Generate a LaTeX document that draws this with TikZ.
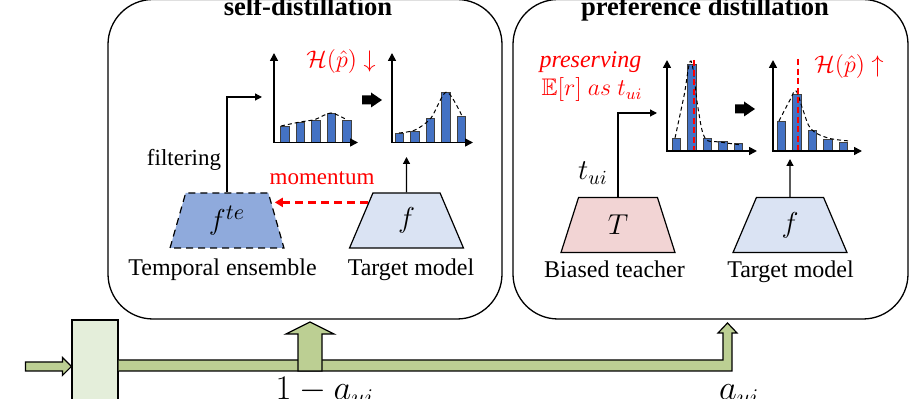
\documentclass[tikz,border=0pt]{standalone}
\usepackage{amssymb}
\usepackage{fontspec}
\setmainfont{Liberation Serif}
\usetikzlibrary{arrows.meta,calc,positioning,shapes.geometric}
\definecolor{barblue}{HTML}{4472C4}
\definecolor{teblue}{HTML}{8FAADC}
\definecolor{tgtblue}{HTML}{DAE3F3}
\definecolor{tchpink}{HTML}{F2D4D4}
\definecolor{flowgreen}{HTML}{BCCF93}
\definecolor{gatefill}{HTML}{E4EEDA}
\tikzset{link/.style={-{Triangle[length=3.5pt,width=3.5pt]}, line width=0.6pt},
  chartaxis/.style={{Triangle[length=4pt,width=4pt]}-{Triangle[length=4pt,width=4pt]}, line width=0.8pt},
  bar/.style={draw=black!75, fill=barblue, line width=0.5pt},
  trend/.style={dash pattern=on 2pt off 1.5pt, line width=0.5pt},
  meanline/.style={red, line width=1.1pt, dash pattern=on 3pt off 1.8pt},
  momline/.style={red, line width=1.4pt, dash pattern=on 4pt off 2.5pt, -{Triangle[length=4pt,width=4.5pt]}},
  model/.style={trapezium, draw, trapezium angle=77, trapezium stretches=true,
    minimum width=57pt, minimum height=27.5pt, inner sep=0pt, line width=0.6pt,
    font=\fontsize{15}{17}\selectfont},
  panel/.style={draw, rounded corners=22.5pt, line width=0.65pt},
  ttl/.style={font=\bfseries\fontsize{13.3}{15}\selectfont},
  lbl/.style={font=\fontsize{12}{14}\selectfont},
  flowshape/.style={draw=black, fill=flowgreen, line width=0.6pt, line join=miter}}

\begin{document}
\begin{tikzpicture}[x=0.5pt, y=-0.5pt]
  \useasboundingbox (0,0) rectangle (921,399);
  \clip (0,0) rectangle (921,399);
  % panels
  \node[panel, minimum width=197pt, minimum height=159.75pt] (sdpanel) at (305,159.25) {};
  \node[panel, minimum width=197.5pt, minimum height=159.75pt] (pdpanel) at (710.5,159.25) {};
  \node[ttl, anchor=base] (sdtitle) at (308,15.5) {self-distillation};
  \node[ttl, anchor=base] (pdtitle) at (705,15.5) {preference distillation};

  % self-distillation
  \node[model, fill=teblue, dash pattern=on 3.5pt off 2.5pt] (fte) at (227,220.5) {$f^{te}$};
  \node[model, fill=tgtblue] (tgt) at (406.5,220.5) {$f$};
  \node[lbl, anchor=base] (telbl) at (222.5,276) {Temporal ensemble};
  \node[lbl, anchor=base] (tgtlbl) at (411,276) {Target model};
  \foreach \i/\t in {0/127,1/123,2/121,3/114,4/121}{\draw[bar] (280.5+15.5*\i,142.5) rectangle ++(8.5,\t-142.5);}
  \draw[trend] plot[smooth] coordinates {(281,126) (300,122) (315,119.5) (331,113) (347,120)};
  \draw[chartaxis] (274,53) -- (274,142.5) -- (358,142.5);
  \foreach \i/\t in {0/134,1/132,2/119,3/93,4/117}{\draw[bar] (395+15.5*\i,142.5) rectangle ++(8.5,\t-142.5);}
  \draw[trend] plot[smooth] coordinates {(399,133) (415,130) (431,118) (446.5,92) (462,116)};
  \draw[chartaxis] (392,53) -- (392,142.5) -- (473,142.5);
  \fill (362,100) ++(0,-4.5) -- ++(9,0) -- ++(0,-3) -- ++(11,7.5) -- ++(-11,7.5) -- ++(0,-3) -- ++(-9,0) -- cycle;
  \node[red, font=\fontsize{13}{15}\selectfont] (entdown) at (341,62) {$\mathcal{H}(\hat{p})\downarrow$};
  \coordinate (c1in) at (262,97);
  \coordinate (c2in) at (406.5,157);
  \draw[link] (fte.north) |- (c1in);
  \draw[link] (tgt.north) -- (c2in);
  \draw[momline] ($(tgt.top left corner)+(-5,10)$) -- ($(fte.top right corner)+(6,10)$);
  \node[lbl, red, font=\fontsize{11.5}{14}\selectfont, anchor=base] (momlbl) at (322,185) {momentum};
  \node[lbl, font=\fontsize{11.5}{14}\selectfont, anchor=base] (filtlbl) at (184,166) {filtering};

  % preference distillation
  \node[model, fill=tchpink] (teach) at (618,225) {$T$};
  \node[model, fill=tgtblue] (tgt2) at (790,225) {$f$};
  \node[lbl, anchor=base] (teachlbl) at (614.5,278) {Biased teacher};
  \node[lbl, anchor=base] (tgt2lbl) at (790.5,278) {Target model};
  \foreach \i/\t in {0/139,1/65,2/139,3/142,4/144}{\draw[bar] (672+15.5*\i,151) rectangle ++(8.5,\t-151);}
  \draw[trend] plot[smooth, tension=0.6] coordinates {(675,138) (684,96) (691,61) (698,108) (705,138) (720,142) (742,145)};
  \draw[meanline] (694,60) -- (694,153);
  \draw[chartaxis] (667,60) -- (667,151) -- (757,151);
  \foreach \i/\t in {0/122,1/95,2/131,3/140,4/143}{\draw[bar] (777+15.5*\i,151) rectangle ++(8.5,\t-151);}
  \draw[trend] plot[smooth, tension=0.6] coordinates {(779,121) (790,100) (796,91) (803,110) (811,129) (828,138) (850,141)};
  \draw[meanline] (798,59) -- (798,153);
  \draw[chartaxis] (773,60) -- (773,151) -- (862,151);
  \fill (735,109) ++(0,-4.5) -- ++(9,0) -- ++(0,-3) -- ++(11,7.5) -- ++(-11,7.5) -- ++(0,-3) -- ++(-9,0) -- cycle;
  \node[red, font=\fontsize{13}{15}\selectfont] (entup) at (849,67) {$\mathcal{H}(\hat{p})\uparrow$};
  \node[lbl, red, anchor=base] (preslbl) at (590.5,68) {\textit{preserving}};
  \node[lbl, red, anchor=base] (explbl) at (592,96) {$\mathbb{E}[r]\ as\ t_{ui}$};
  \node[anchor=base, font=\fontsize{14}{16}\selectfont] (tuilbl) at (593,180) {$t_{ui}$};
  \coordinate (c3in) at (657,113);
  \coordinate (c4in) at (790,159);
  \draw[link] (teach.north) |- (c3in);
  \draw[link] (tgt2.north) -- (c4in);

  % weighting flow
  \node[draw, fill=gatefill, line width=0.6pt, minimum width=23pt, minimum height=46.5pt, inner sep=0pt] (gate) at (95,366.5) {};
  \draw[flowshape] (gate.west) -- ++(-9,-9) -- ++(0,4.5) -- ++(-37,0) -- ++(0,9) -- ++(37,0) -- ++(0,4.5) -- cycle;
  \draw[flowshape] ($(gate.east)+(0,-6.5)$) -- (723,360) -- (723,333) -- (718,333) -- (727.5,323) -- (737,333) -- (732,333) -- (732,371) -- ($(gate.east)+(0,4.5)$);
  \draw[flowshape] (298,371) -- (298,334) -- (286,334) -- (310,322) -- (334,334) -- (322,334) -- (322,371) -- cycle;
  \node[anchor=base west, font=\fontsize{17}{20}\selectfont] (wself) at (268.5,400) {$1-a_{ui}$};
  \node[anchor=base west, font=\fontsize{17}{20}\selectfont] (wpref) at (712,400) {$a_{ui}$};
\end{tikzpicture}
\end{document}
